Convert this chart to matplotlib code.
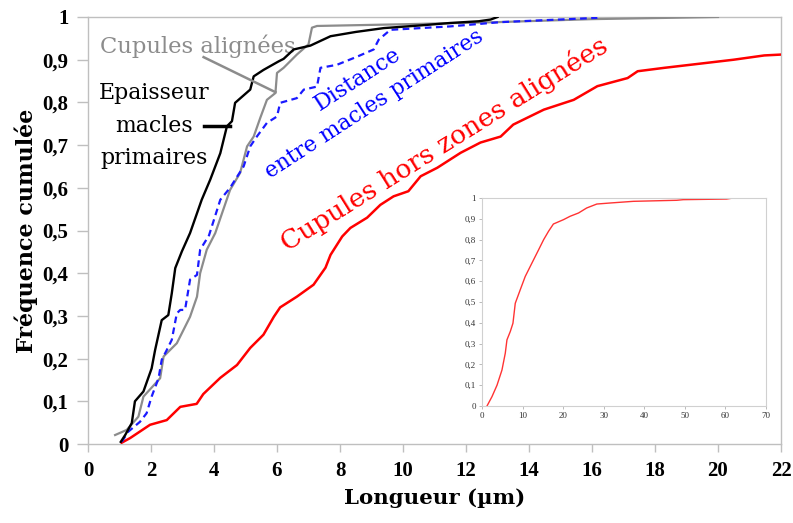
import matplotlib
matplotlib.use("Agg")
import matplotlib.pyplot as plt
from matplotlib.ticker import FuncFormatter

# ---------------- data ----------------
black_x = [1.04, 1.18, 1.39, 1.49, 1.76, 2.02, 2.13, 2.34, 2.55, 2.66, 2.77, 2.98, 3.24, 3.61, 3.88,
           4.20, 4.41, 4.57, 4.67, 5.15, 5.26, 5.57, 6.05, 6.21, 6.53, 7.06, 7.70, 8.50, 9.39, 10.5,
           11.5, 12.4, 12.78, 13.0]
black_y = [0.005, 0.021, 0.049, 0.100, 0.123, 0.177, 0.220, 0.290, 0.302, 0.353, 0.412, 0.451, 0.494,
           0.572, 0.619, 0.681, 0.744, 0.756, 0.799, 0.830, 0.861, 0.876, 0.896, 0.902, 0.924, 0.933,
           0.955, 0.965, 0.974, 0.980, 0.986, 0.990, 0.994, 1.0]

gray_x = [0.86, 1.23, 1.60, 1.76, 2.29, 2.40, 2.82, 3.24, 3.46, 3.56, 3.77, 4.04, 4.30, 4.51, 4.83,
          5.05, 5.26, 5.47, 5.68, 5.95, 6.00, 6.21, 6.63, 7.00, 7.11, 7.27, 10.0, 13.0, 16.0, 20.0]
gray_y = [0.021, 0.033, 0.064, 0.111, 0.154, 0.205, 0.236, 0.298, 0.345, 0.400, 0.455, 0.494, 0.550,
          0.595, 0.635, 0.697, 0.720, 0.764, 0.806, 0.822, 0.869, 0.881, 0.912, 0.936, 0.975, 0.979,
          0.983, 0.988, 0.995, 1.0]

blue_x = [1.07, 1.28, 1.65, 1.86, 2.02, 2.24, 2.34, 2.50, 2.66, 2.82, 2.93, 3.08, 3.24, 3.46, 3.56,
          3.77, 3.83, 4.20, 4.51, 4.94, 5.15, 5.36, 5.68, 6.00, 6.10, 6.63, 6.85, 7.27, 7.38, 7.90,
          8.54, 9.07, 9.23, 9.60, 11.5, 13.1, 16.17]
blue_y = [0.005, 0.029, 0.052, 0.072, 0.111, 0.154, 0.197, 0.220, 0.244, 0.306, 0.314, 0.314, 0.385,
          0.396, 0.455, 0.480, 0.486, 0.572, 0.600, 0.650, 0.697, 0.720, 0.752, 0.767, 0.799, 0.810,
          0.830, 0.837, 0.881, 0.888, 0.907, 0.924, 0.947, 0.970, 0.978, 0.988, 0.998]

red_x = [1.07, 1.34, 1.97, 2.50, 2.93, 3.45, 3.66, 4.20, 4.73, 5.15, 5.57, 5.90, 6.10, 6.63, 7.16,
         7.54, 7.70, 8.07, 8.33, 8.86, 9.28, 9.70, 10.17, 10.56, 11.09, 11.83, 12.46, 13.10, 13.50,
         14.47, 15.42, 16.17, 17.13, 17.45, 18.30, 19.46, 20.50, 21.47, 22.0]
red_y = [0.003, 0.014, 0.045, 0.056, 0.087, 0.094, 0.117, 0.155, 0.185, 0.225, 0.256, 0.298, 0.320,
         0.345, 0.373, 0.413, 0.443, 0.486, 0.506, 0.530, 0.560, 0.580, 0.592, 0.627, 0.647, 0.682,
         0.706, 0.720, 0.748, 0.783, 0.806, 0.838, 0.857, 0.873, 0.881, 0.891, 0.900, 0.910, 0.912]

inset_x = [1.23, 2.46, 3.70, 4.92, 5.74, 6.15, 6.97, 7.63, 8.20, 9.43, 10.66, 12.3, 13.95, 15.2,
           16.4, 17.6, 20.1, 21.7, 23.8, 25.8, 28.3, 31.6, 37.3, 48.0, 49.6, 60.3, 61.9, 64.8]
inset_y = [0.0, 0.045, 0.100, 0.173, 0.254, 0.318, 0.358, 0.398, 0.494, 0.559, 0.623, 0.687, 0.751,
           0.800, 0.840, 0.875, 0.896, 0.912, 0.928, 0.952, 0.971, 0.976, 0.984, 0.989, 0.992, 0.995,
           1.0, 1.0]

x_ticks = list(range(0, 23, 2))
y_ticks = [i / 10 for i in range(11)]
inset_x_ticks = list(range(0, 71, 10))

# ---------------- style ----------------
SERIF = ["Liberation Serif", "DejaVu Serif"]
WIDE = ["DejaVu Serif", "Liberation Serif"]
plt.rcParams['font.family'] = SERIF
FRAME = "#bfbfbf"


def comma_fmt(v, _pos):
    if abs(v) < 1e-9:
        return "0"
    if abs(v - 1) < 1e-9:
        return "1"
    return f"{v:.1f}".replace(".", ",")


fig = plt.figure(figsize=(7.93, 5.23), dpi=100)
ax = fig.add_axes([88 / 793, 1 - 444 / 523, (781 - 88) / 793, (444 - 17) / 523])

ax.plot(red_x, red_y, color="#ff0000", lw=1.8, zorder=3)
ax.plot(gray_x, gray_y, color="#8c8c8c", lw=1.6, zorder=4)
ax.plot(blue_x, blue_y, color="#1a1aff", lw=1.6, ls=(0, (3, 2)), zorder=5)
ax.plot(black_x, black_y, color="#000000", lw=1.7, zorder=6)

ax.set_xlim(0, 22)
ax.set_ylim(0, 1)
ax.set_xticks(x_ticks)
ax.set_yticks(y_ticks)
ax.yaxis.set_major_formatter(FuncFormatter(comma_fmt))
for s in ax.spines.values():
    s.set_color(FRAME)
    s.set_linewidth(1.0)
ax.tick_params(axis="both", direction="out", width=1, color=FRAME, labelsize=15)
ax.tick_params(axis="x", length=6, pad=6)
ax.tick_params(axis="y", length=8, pad=6)
for lab in ax.get_xticklabels() + ax.get_yticklabels():
    lab.set_fontweight("bold")

ax.set_xlabel("Longueur (µm)", fontsize=15.3, fontweight="bold", labelpad=5, family=WIDE)
ax.set_ylabel("Fréquence cumulée", fontsize=16, fontweight="bold", labelpad=3, family=WIDE)

# annotations
ax.text(3.5, 0.932, "Cupules alignées", color="#8c8c8c", fontsize=16.3, ha="center",
        va="center", family=WIDE)
ax.plot([3.67, 5.95], [0.906, 0.824], color="#8c8c8c", lw=1.8, zorder=7)
ax.text(2.1, 0.745, "Epaisseur\nmacles\nprimaires", color="black", fontsize=15.8, ha="center",
        va="center", linespacing=1.62, family=WIDE)
ax.plot([3.67, 4.52], [0.745, 0.745], color="black", lw=2.5, zorder=7)
ax.text(8.55, 0.855, "Distance", color="#0000ff", fontsize=16, ha="center", va="center",
        rotation=33, rotation_mode="anchor", family=WIDE)
ax.text(9.1, 0.797, "entre macles primaires", color="#0000ff", fontsize=15.7, ha="center",
        va="center", rotation=33, rotation_mode="anchor", family=WIDE)
ax.text(11.3, 0.703, "Cupules hors zones alignées", color="#ff0000", fontsize=19, ha="center",
        va="center", rotation=32, rotation_mode="anchor", family=WIDE)

# ---------------- inset ----------------
ins = fig.add_axes([482 / 793, 1 - 406 / 523, (766 - 482) / 793, (406 - 198) / 523])
ins.plot(inset_x, inset_y, color="#ff3333", lw=1.0)
ins.set_xlim(0, 70)
ins.set_ylim(0, 1)
ins.set_xticks(inset_x_ticks)
ins.set_yticks(y_ticks)
ins.yaxis.set_major_formatter(FuncFormatter(comma_fmt))
for s in ins.spines.values():
    s.set_color("#d0d0d0")
    s.set_linewidth(0.8)
ins.tick_params(axis="both", direction="out", length=2.5, width=0.6, color="#b0b0b0",
                labelsize=6.5, pad=2, labelcolor="#333333")

fig.savefig("out.png", dpi=100)
